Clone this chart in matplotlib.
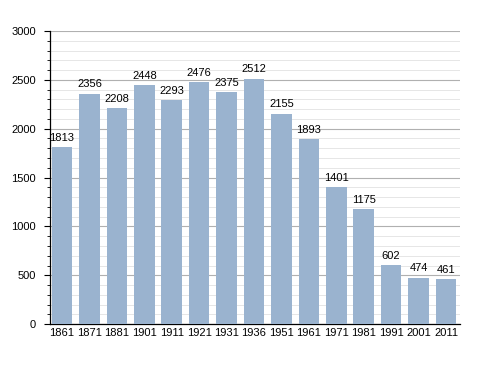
import matplotlib.pyplot as plt
from matplotlib.ticker import MultipleLocator

plt.rcParams['font.family'] = ['Liberation Sans', 'DejaVu Sans']

years = ['1861', '1871', '1881', '1901', '1911', '1921', '1931', '1936',
         '1951', '1961', '1971', '1981', '1991', '2001', '2011']
population = [1813, 2356, 2208, 2448, 2293, 2476, 2375, 2512,
              2155, 1893, 1401, 1175, 602, 474, 461]

fig = plt.figure(figsize=(4.88, 3.73), dpi=100)
ax = fig.add_axes([0.1025, 0.131, 0.84, 0.786])

x = range(len(years))
ax.bar(x, population, width=0.75, color='#9ab3cf', zorder=3)

# value labels above bars
for i, v in zip(x, population):
    ax.text(i, v + 45, str(v), ha='center', va='bottom', fontsize=8, zorder=4)

ax.set_xlim(-0.44, 14.51)
ax.set_ylim(0, 3000)
ax.set_xticks(list(x))
ax.set_xticklabels(years)
ax.yaxis.set_major_locator(MultipleLocator(500))
ax.yaxis.set_minor_locator(MultipleLocator(100))

ax.grid(which='major', axis='y', color='#b0b0b0', linewidth=0.8, zorder=1)
ax.grid(which='minor', axis='y', color='#e6e6e6', linewidth=0.7, zorder=0)

for s in ['top', 'right']:
    ax.spines[s].set_visible(False)
ax.spines['left'].set_linewidth(0.9)
ax.spines['bottom'].set_linewidth(0.9)

ax.tick_params(axis='x', length=0, labelsize=8, pad=3)
ax.tick_params(axis='y', which='major', length=4, labelsize=8, pad=6)
ax.tick_params(axis='y', which='minor', length=2)

fig.savefig('out.png', dpi=100)
